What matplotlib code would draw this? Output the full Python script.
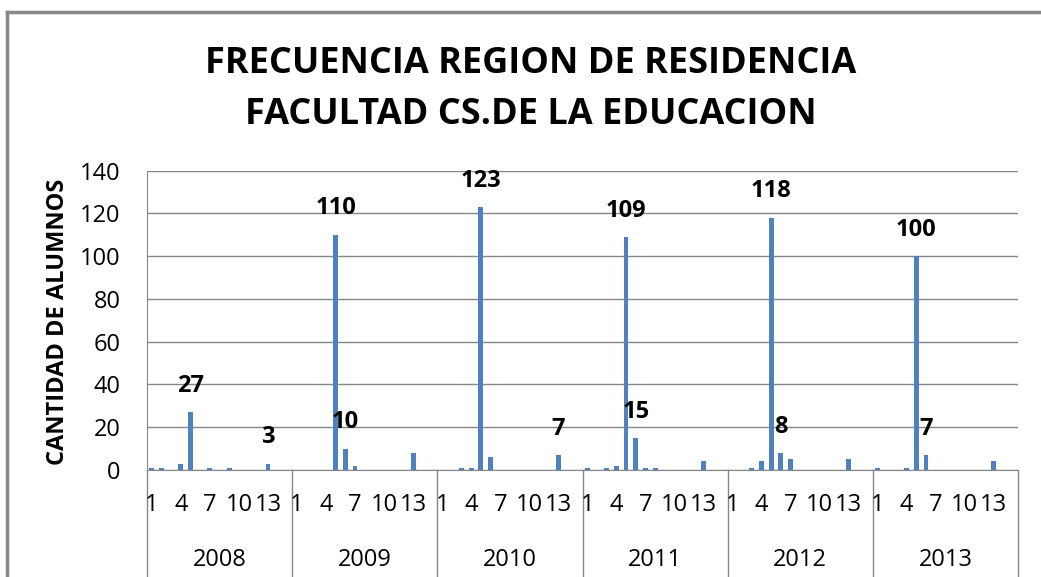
import numpy as np
import matplotlib
matplotlib.use("Agg")
import matplotlib.pyplot as plt
from matplotlib.lines import Line2D

plt.rcParams['font.family'] = ['Open Sans', 'DejaVu Sans']

years = ["2008", "2009", "2010", "2011", "2012", "2013"]
n_cat = 15
shown_cats = [1, 4, 7, 10, 13]

# values per year for categories 1..15
v2008 = [1, 1, 0, 3, 27, 0, 1, 0, 1, 0, 0, 0, 3, 0, 0]
v2009 = [0, 0, 0, 0, 110, 10, 2, 0, 0, 0, 0, 0, 8, 0, 0]
v2010 = [0, 0, 1, 1, 123, 6, 0, 0, 0, 0, 0, 0, 7, 0, 0]
v2011 = [1, 0, 1, 2, 109, 15, 1, 1, 0, 0, 0, 0, 4, 0, 0]
v2012 = [0, 0, 1, 4, 118, 8, 5, 0, 0, 0, 0, 0, 5, 0, 0]
v2013 = [1, 0, 0, 1, 100, 7, 0, 0, 0, 0, 0, 0, 4, 0, 0]

# which categories carry a data label in each year
labelled = {
    "2008": [5, 13],
    "2009": [5, 6],
    "2010": [5, 13],
    "2011": [5, 6],
    "2012": [5, 6],
    "2013": [5, 6],
}

values = np.array([v2008, v2009, v2010, v2011, v2012, v2013])

W, H = 1041, 577
fig = plt.figure(figsize=(W / 100, H / 100), dpi=100)
ax = fig.add_axes([147 / W, 1 - 470 / H, (1018 - 147) / W, (470 - 170.7) / H])

grey = "#878787"
blue = "#4F81BD"

x = np.arange(values.size) + 0.5
ax.bar(x, values.ravel(), width=0.5, color=blue, zorder=3)

ax.set_xlim(0, values.size)
ax.set_ylim(0, 140)
ax.set_yticks(range(0, 141, 20))
ax.grid(axis="y", color=grey, lw=1, zorder=0)
ax.tick_params(axis="y", length=0, pad=19, labelsize=17)
ax.set_xticks([])
for s in ["top", "right"]:
    ax.spines[s].set_visible(False)
ax.spines["bottom"].set_color(grey)
ax.spines["left"].set_color(grey)

# data labels
for gi, yr in enumerate(years):
    for c in labelled[yr]:
        v = values[gi, c - 1]
        ax.annotate(str(v), (gi * n_cat + c - 0.5, v), xytext=(0, 19),
                    textcoords="offset points", ha="center", va="center",
                    fontsize=17, fontweight="bold", zorder=4)

# category axis (two levels)
xt = ax.get_xaxis_transform()
for gi, yr in enumerate(years):
    for c in shown_cats:
        ax.text(gi * n_cat + c - 0.5, -35 / 299.3, str(c), transform=xt,
                ha="center", va="center", fontsize=17)
    ax.text(gi * n_cat + n_cat / 2, -90 / 299.3, yr, transform=xt,
            ha="center", va="center", fontsize=17)
for b in range(len(years) + 1):
    ax.add_line(Line2D([b * n_cat, b * n_cat], [0, -0.5], transform=xt,
                       color=grey, lw=1, clip_on=False))

ax.set_ylabel("CANTIDAD DE ALUMNOS", fontsize=17, fontweight="bold")
ax.yaxis.set_label_coords(-(147 - 70) / (1018 - 147), (470 - 322) / 299.3)

fig.text(531 / W, 1 - 64 / H, "FRECUENCIA REGION DE RESIDENCIA",
         ha="center", va="center", fontsize=26, fontweight="bold")
fig.text(531 / W, 1 - 115 / H, "FACULTAD CS.DE LA EDUCACION",
         ha="center", va="center", fontsize=26, fontweight="bold")

# chart frame
fig.add_artist(Line2D([7 / W, 7 / W], [0, 1 - 12 / H], color=grey, lw=2.5))
fig.add_artist(Line2D([7 / W, 1], [1 - 12 / H, 1 - 12 / H], color=grey, lw=2.5))

fig.savefig("out.png", dpi=100)
